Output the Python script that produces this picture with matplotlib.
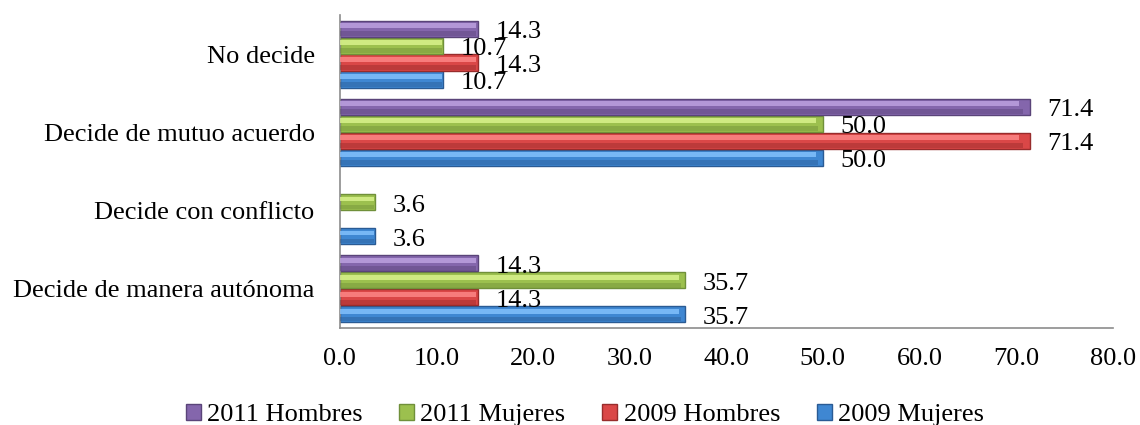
import numpy as np
import matplotlib
matplotlib.use("Agg")
import matplotlib.pyplot as plt
from matplotlib.patches import Patch

categories = ["Decide de manera autónoma", "Decide con conflicto",
              "Decide de mutuo acuerdo", "No decide"]
# bottom-to-top order inside each group
series = ["2009 Mujeres", "2009 Hombres", "2011 Mujeres", "2011 Hombres"]
mujeres_2009 = [35.7, 3.6, 50.0, 10.7]
hombres_2009 = [14.3, 0.0, 71.4, 14.3]
mujeres_2011 = [35.7, 3.6, 50.0, 10.7]
hombres_2011 = [14.3, 0.0, 71.4, 14.3]
xticks = [0, 10, 20, 30, 40, 50, 60, 70, 80]

# (mid, light, dark)
colors = {
    "2009 Mujeres": ("#3F87D2", "#86C4FF", "#2A5B94"),
    "2009 Hombres": ("#DA4747", "#FF8A8A", "#982C2C"),
    "2011 Mujeres": ("#9CC04E", "#DDF590", "#70903A"),
    "2011 Hombres": ("#8466AC", "#BFA4E2", "#5A4479"),
}

plt.rcParams["font.family"] = ["Liberation Serif", "DejaVu Serif"]
FS = 19

fig = plt.figure(figsize=(11.4, 4.25), dpi=100)
ax = fig.add_axes([0.298, 0.228, 0.678, 0.737])

values = [mujeres_2009, hombres_2009, mujeres_2011, hombres_2011]
y = np.arange(len(categories))
h = 0.205
offsets = (np.arange(4) - 1.5) * (h + 0.012)

for name, vals, off in zip(series, values, offsets):
    mid, light, dark = colors[name]
    vals = np.array(vals)
    ypos = y + off
    lw = [1.0 if v > 0 else 0 for v in vals]
    ax.barh(ypos, vals, height=h, color=mid, edgecolor=dark, linewidth=lw, zorder=2)
    # bevel: dark lower band and light upper band
    ax.barh(ypos - h * 0.3, vals * 0.99, height=h * 0.28,
            color=dark, alpha=0.45, linewidth=0, zorder=3)
    ax.barh(ypos + h * 0.2, vals * 0.985, height=h * 0.3,
            color=light, alpha=0.8, linewidth=0, zorder=3)
    for yy, v in zip(ypos, vals):
        if v > 0:
            ax.annotate(f"{v:.1f}", (v, yy), xytext=(13, -2.5), textcoords="offset points",
                        ha="left", va="center", fontsize=FS)

ax.set_xlim(0, 80)
ax.set_ylim(-0.5, 3.5)
ax.set_xticks(xticks)
ax.set_xticklabels([f"{t:.1f}" for t in xticks], fontsize=FS)
ax.set_yticks(y)
ax.set_yticklabels(categories, fontsize=FS)
ax.tick_params(axis="both", length=0)
ax.tick_params(axis="x", pad=14)
ax.tick_params(axis="y", pad=18)
for s in ["top", "right"]:
    ax.spines[s].set_visible(False)
for s in ["left", "bottom"]:
    ax.spines[s].set_color("#8C8C8C")
    ax.spines[s].set_linewidth(1.2)

handles = [Patch(facecolor=colors[n][0], edgecolor=colors[n][2]) for n in series[::-1]]
fig.legend(handles, series[::-1], loc="center", ncol=4, frameon=False,
           fontsize=FS, bbox_to_anchor=(0.513, 0.023), handlelength=0.57,
           handleheight=0.57, handletextpad=0.23, columnspacing=1.4,
           borderpad=0.1)

fig.savefig("out.png", dpi=100)
